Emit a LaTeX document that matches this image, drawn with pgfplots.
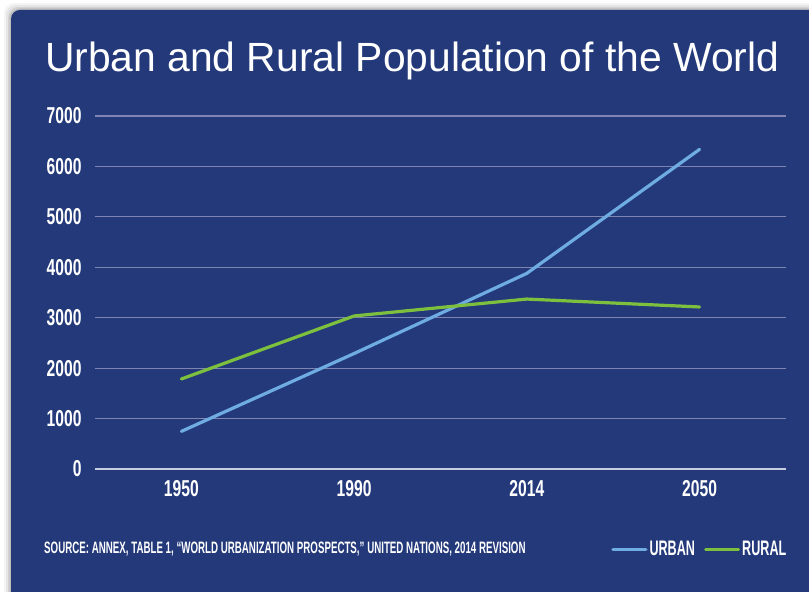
\documentclass[border=0pt]{standalone}
\usepackage{fontspec}
\setmainfont{Liberation Sans}
\newfontfamily\cond[FakeStretch=0.68]{Liberation Sans}
\newfontfamily\condsrc[FakeStretch=0.59]{Liberation Sans}
\newfontfamily\condleg[FakeStretch=0.6]{Liberation Sans}
\usepackage{pgfplots}
\pgfplotsset{compat=1.18}

\definecolor{panel}{RGB}{35,57,122}
\definecolor{gridc}{RGB}{128,132,178}
\definecolor{zeroc}{RGB}{200,205,225}
\definecolor{urban}{RGB}{110,172,226}
\definecolor{rural}{RGB}{125,192,62}

\begin{document}
\begin{tikzpicture}
% page: 809 x 592 pt, y measured up from the bottom
\path[use as bounding box] (0pt,0pt) rectangle (809pt,592pt);
\clip (0pt,0pt) rectangle (809pt,592pt);
\fill[white] (0pt,0pt) rectangle (809pt,592pt);
% soft shadow round the panel
\foreach \d/\o in {7/0.04,5/0.06,3/0.08,1.5/0.10} {
  \fill[black,opacity=\o,rounded corners=10pt] (11pt-\d pt,-20pt) rectangle (830pt,582pt+\d pt);
}
\fill[panel,rounded corners=9pt] (11pt,-20pt) rectangle (830pt,582pt);

\node[anchor=base west,text=white,inner sep=0pt,font=\fontsize{40.8}{40.8}\selectfont]
  at (45pt,520pt) {Urban and Rural Population of the World};

\node[anchor=west,text=white,inner sep=0pt,font=\condsrc\bfseries\fontsize{16.5}{16.5}\selectfont]
  at (44pt,43pt) {SOURCE: ANNEX, TABLE 1, “WORLD URBANIZATION PROSPECTS,” UNITED NATIONS, 2014 REVISION};

\begin{axis}[
    at={(95pt,123pt)}, anchor=south west,
    scale only axis,
    width=691pt, height=353pt,
    xmin=-0.5, xmax=3.5,
    ymin=0, ymax=7000,
    xtick={0,1,2,3},
    xticklabels={1950,1990,2014,2050},
    ytick={1000,2000,3000,4000,5000,6000,7000},
    extra y ticks={0},
    extra y tick style={grid=none},
    ymajorgrids=true,
    grid style={gridc,line width=1.1pt},
    axis line style={draw=none},
    major tick length=0pt,
    /pgf/number format/assume math mode=true,
    /pgf/number format/set thousands separator={},
    tick label style={text=white,font=\cond\bfseries\fontsize{23}{23}\selectfont},
    yticklabel style={xshift=-10pt},
    xticklabel style={yshift=-8pt},
    legend columns=2,
    legend style={at={(1.008,-0.227)}, anchor=east, draw=none, fill=none,
      text=white, font=\condleg\bfseries\fontsize{21}{21}\selectfont,
      /tikz/every even column/.append style={column sep=7pt}},
    legend image code/.code={\draw[#1] (0pt,0pt) -- (33pt,0pt);},
]
\draw[zeroc,line width=2pt] (axis cs:-0.5,0) -- (axis cs:3.5,0);

\addplot[urban,line width=3.2pt,line cap=round,line join=round] coordinates {
  (0,746) (1,2290) (2,3880) (3,6339)
};
\addplot[rural,line width=3.2pt,line cap=round,line join=round] coordinates {
  (0,1785) (1,3035) (2,3370) (3,3213)
};
\legend{URBAN, RURAL}
\end{axis}
\end{tikzpicture}
\end{document}
